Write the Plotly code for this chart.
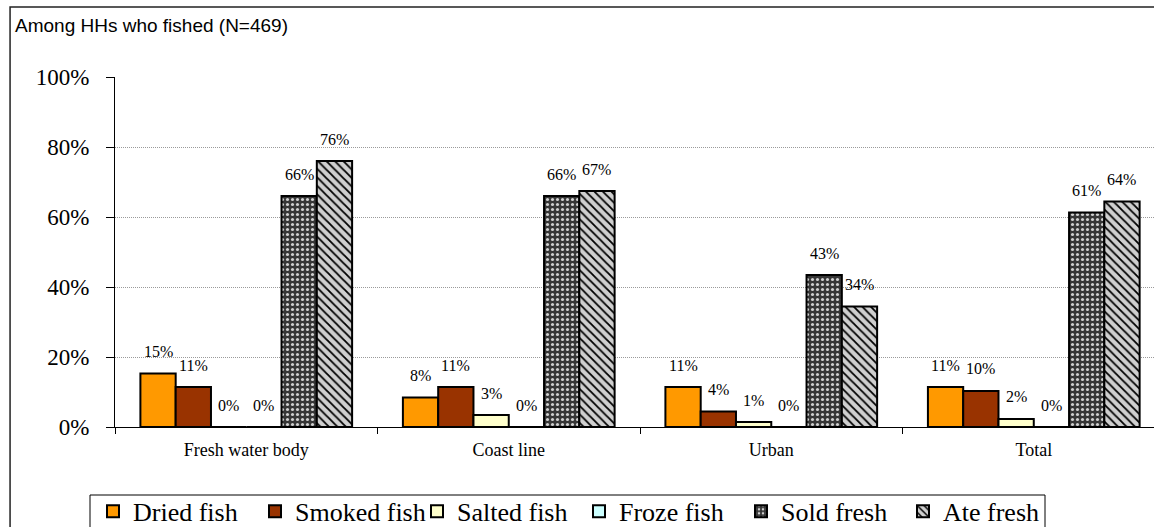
import plotly.graph_objects as go

categories = ["Fresh water body", "Coast line", "Urban", "Total"]
series_names = ["Dried fish", "Smoked fish", "Salted fish", "Froze fish", "Sold fresh", "Ate fresh"]
dried = [15.3, 8.4, 11.4, 11.4]
smoked = [11.4, 11.4, 4.4, 10.3]
salted = [0.0, 3.4, 1.4, 2.3]
froze = [0.0, 0.0, 0.0, 0.0]
sold = [66.0, 66.0, 43.4, 61.3]
ate = [76.0, 67.4, 34.4, 64.4]
y_ticks = [0, 20, 40, 60, 80, 100]
y_tick_labels = ["0%", "20%", "40%", "60%", "80%", "100%"]
title_text = "Among HHs who fished (N=469)"

values = [dried, smoked, salted, froze, sold, ate]
colors = ["#FF9900", "#993300", "#FFFFCC", "#CCFFFF", "#363636", "#C8C8C8"]
patterns = [None, None, None, None,
            dict(shape=".", fgcolor="#D0D0D0", bgcolor="#363636", size=5, solidity=0.3, fillmode="replace"),
            dict(shape="\\", fgcolor="#000000", bgcolor="#CFCFCF", size=6, solidity=0.3, fillmode="replace")]

serif = "Liberation Serif, Times New Roman, serif"
bargap = 0.1935
bar_w = (1 - bargap) / len(series_names)

fig = go.Figure()
annotations = []
for j, (name, vals, col, pat) in enumerate(zip(series_names, values, colors, patterns)):
    marker = dict(color=col, line=dict(color="#000000", width=2))
    if pat:
        marker["pattern"] = pat
    fig.add_trace(go.Bar(name=name, x=categories, y=vals, marker=marker, cliponaxis=False))
    for i, v in enumerate(vals):
        annotations.append(dict(
            x=i + (j - (len(series_names) - 1) / 2) * bar_w, y=v, xref="x", yref="y",
            text=f"{round(v)}%", showarrow=False, xanchor="center", yanchor="middle", yshift=22,
            font=dict(family=serif, size=16, color="#000000")))

annotations.append(dict(text=title_text, xref="paper", yref="paper", x=-0.098, y=1.146,
                        xanchor="left", yanchor="middle", showarrow=False,
                        font=dict(family="Liberation Sans, Arial, sans-serif", size=19, color="#000000")))

fig.update_layout(
    width=1154, height=527,
    font=dict(family=serif, color="#000000"),
    margin=dict(l=115, r=0, t=77, b=100, autoexpand=False),
    paper_bgcolor="white", plot_bgcolor="white",
    barmode="group", bargap=bargap, bargroupgap=0,
    showlegend=True,
    legend=dict(orientation="h", x=(90 - 115 + 3) / 1039, xanchor="left", y=-0.174, yanchor="top",
                borderwidth=0, bgcolor="rgba(0,0,0,0)",
                font=dict(family=serif, size=26, color="#000000"),
                entrywidth=117, entrywidthmode="pixels",
                tracegroupgap=0),
    xaxis=dict(type="category", range=[-0.5, 3.458], tickson="boundaries",
               ticks="outside", ticklen=6, tickcolor="#000000",
               showline=True, linecolor="#000000", linewidth=1, showgrid=False,
               ticklabelstandoff=6,
               tickfont=dict(family=serif, size=18, color="#000000")),
    yaxis=dict(range=[0, 100], tickmode="array", tickvals=y_ticks, ticktext=y_tick_labels,
               ticks="outside", ticklen=8, tickcolor="#000000",
               showline=True, linecolor="#000000", linewidth=1,
               showgrid=True, gridcolor="#9A9A9A", griddash="1px,1px", gridwidth=1,
               zeroline=False, ticklabelstandoff=12,
               tickfont=dict(family=serif, size=23, color="#000000")),
    annotations=annotations,
    shapes=[dict(type="rect", xref="paper", yref="paper", x0=-0.101, x1=1.2, y0=-0.6, y1=1.2,
                 line=dict(color="#222222", width=1.5), fillcolor="rgba(0,0,0,0)", layer="below"),
            dict(type="rect", xref="paper", yref="paper", x0=(90 - 115) / 1039, x1=(1045 - 115) / 1039,
                 y0=-0.6, y1=(427 - 495) / 350,
                 line=dict(color="#000000", width=1), fillcolor="white", layer="below")],
)

fig.write_html("out.html")
